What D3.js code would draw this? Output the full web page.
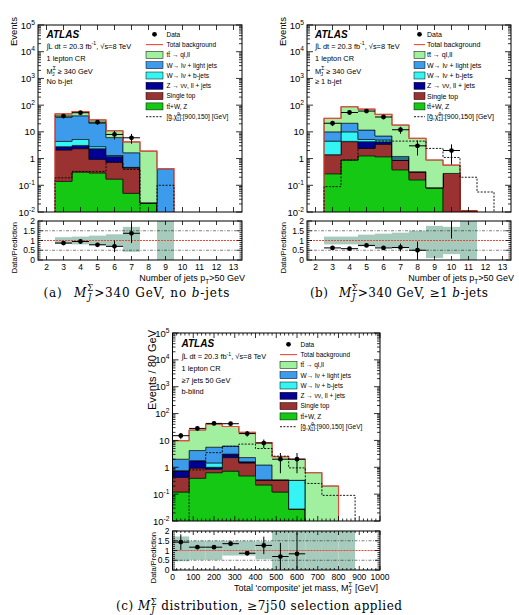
<!DOCTYPE html>
<html>
<head>
<meta charset="utf-8">
<script src="https://cdn.jsdelivr.net/npm/d3@7"></script>
<style>
  body { margin: 0; background: #fff; }
  svg { display: block; }
</style>
</head>
<body>
<svg id="fig" width="519" height="615"></svg>
<script>
// --- (a) M_J > 340 GeV, no b-jets : jet multiplicity bins ---
const aBins = [3, 4, 5, 6, 7, 8, 9];
const aTtV = [0.14, 0.31, 0.29, 0.17, 0.05, 0.022, 0];
const aSingleTop = [1.96, 2.04, 0.64, 0.56, 0.40, 0, 0];
const aZjets = [0.7, 0.75, 1.42, 0.47, 0.01, 0, 0];
const aWb = [1.6, 2.1, 0.45, 0.1, 0.01, 0, 0];
const aWlight = [30.6, 34.8, 18.2, 4.8, 1.18, 0, 0.42];
const aTtbar = [12, 17, 7, 4.9, 2.55, 1.88, 0];
const aSignal = [0.19, 0.33, 0.33, 0.73, 0.39, 0, 0.1];
const aDataBins = [3, 4, 5, 6, 7];
const aData = [39, 52, 23, 8, 6];
const aDataErr = [6.2, 7.2, 4.8, 2.8, 2.4];
const aRatio = [0.87, 0.95, 0.78, 0.70, 1.37];
const aRatioErr = [0.08, 0.08, 0.10, 0.30, 0.50];
const aBandLo = [0.82, 0.80, 0.76, 0.70, 0.42, null, 0];
const aBandHi = [1.17, 1.20, 1.25, 1.32, 1.70, null, 2];

// --- (b) M_J > 340 GeV, >=1 b-jets ---
const bBins = [3, 4, 5, 6, 7, 8, 9, 10, 11, 12, 13];
const bTtV = [0.27, 0.88, 1.27, 1.17, 0.38, 0.16, 0.081, 0.008, 0, 0, 0];
const bSingleTop = [1.13, 3.42, 1.13, 2.23, 0.47, 0.16, 0, 0.27, 0.011, 0, 0];
const bZjets = [0, 0.1, 1.9, 0.8, 0.05, 0, 0, 0, 0, 0, 0];
const bWb = [3.1, 5.6, 0.9, 0.8, 0.15, 0, 0, 0, 0, 0, 0];
const bWlight = [5.5, 11, 6.5, 2.0, 0.15, 0, 0, 0, 0, 0, 0];
const bTtbar = [22, 66, 59, 38, 16.8, 5.4, 0.8, 0.29, 0, 0, 0];
const bSignal = [0.089, 0.88, 2.4, 4.5, 4.5, 4.5, 2.4, 1.1, 0.2, 0.056, 0];
const bDataBins = [3, 4, 5, 6, 7, 8, 10];
const bData = [21, 53, 60, 36, 12, 3, 2];
const bDataErr = [4.6, 7.3, 7.7, 6.0, 3.5, 1.7, 1.4];
const bRatio = [0.62, 0.58, 0.75, 0.62, 0.64, 0.50, 3.3];
const bRatioErr = [0.10, 0.06, 0.08, 0.08, 0.20, 0.45, 2.2];
const bBandLo = [0.80, 0.80, 0.70, 0.65, 0.60, 0.50, 0.10, 0.30, 0, null, null];
const bBandHi = [1.20, 1.20, 1.30, 1.35, 1.40, 1.50, 1.75, 1.70, 2, null, null];

// --- (c) composite jet mass, >=7j50, 80 GeV bins ---
const cBins = [40, 120, 200, 280, 360, 440, 520, 600, 680, 760, 840];
const cTtV = [0.12, 0.39, 0.63, 0.72, 0.48, 0.22, 0.12, 0.028, 0, 0, 0];
const cSingleTop = [0.30, 0.54, 0.22, 1.58, 0.97, 0.12, 0.22, 0, 0, 0, 0];
const cZjets = [0.30, 0.83, 0.15, 0.70, 0.15, 0, 0, 0, 0, 0, 0];
const cWb = [0.03, 0, 0.45, 0.10, 0, 0, 0, 0.30, 0, 0, 0];
const cWlight = [1.25, 2.44, 4.15, 3.10, 0.70, 0.88, 0, 0, 0, 0, 0];
const cTtbar = [7.8, 20.3, 34.4, 26.8, 17.7, 7.08, 2.16, 1.67, 0.63, 0.20, 0];
const cSignal = [0, 0.8, 3.5, 6.0, 7.3, 5.0, 2.6, 0.95, 0.25, 0.09, 0.09];
const cDataBins = [40, 120, 200, 280, 360, 440, 520, 600];
const cData = [15, 28, 43, 42, 18, 8, 2, 2];
const cDataErr = [3.9, 5.3, 6.6, 6.5, 4.2, 2.8, 1.4, 1.4];
const cRatio = [1.43, 1.17, 1.17, 1.35, 0.86, 1.26, 0.69, 0.83];
const cRatioErr = [0.40, 0.10, 0.10, 0.10, 0.10, 0.45, 0.70, 1.10];
const cBandLo = [0.45, 0.52, 0.52, 0.74, 0.74, 0.55, 0, 0, 0, 0, 0];
const cBandHi = [1.72, 1.50, 1.50, 1.50, 1.50, 1.47, 2, 2, 2, 2, 2];

// axis ticks
const jetTicks = [2, 3, 4, 5, 6, 7, 8, 9, 10, 11, 12, 13];
const massTicks = [0, 100, 200, 300, 400, 500, 600, 700, 800, 900, 1000];
const massMinor = d3.range(0, 1001, 20);
const ratioTicks = [0, 0.5, 1, 1.5, 2];
const ratioLabels = ["0", "0.5", "1", "1.5", "2"];
const ratioMinor = d3.range(0, 2.01, 0.1);

// stack order bottom -> top
const procKeys = ["ttV", "singleTop", "Zjets", "Wb", "Wlight", "ttbar"];
const procColors = ["#14c814", "#9b3232", "#000094", "#34f4f4", "#3c9ceb", "#a0f0a0"];
const totalColor = "#f0463a";
const bandColor = "#a6cbbd";

const SANS = "'Liberation Sans', Arial, Helvetica, sans-serif";
const SERIF = "'DejaVu Serif', 'Liberation Serif', serif";
const svg = d3.select("#fig");
const defs = svg.append("defs");

// text with sub/superscripts
function rich(t, parts, fs) {
  let shift = 0;
  parts.forEach(p => {
    const ts = t.append("tspan").text(p.t);
    const target = p.sup ? -fs * 0.42 : p.sub ? fs * 0.28 : 0;
    if (target !== shift) { ts.attr("dy", target - shift); shift = target; }
    if (p.sup || p.sub) ts.attr("font-size", fs * 0.7);
    if (p.it) ts.attr("font-style", "italic");
    if (p.dx) ts.attr("dx", p.dx);
  });
  return t;
}

function drawPanel(P) {
  const g = svg.append("g");
  const x = d3.scaleLinear().domain(P.xDomain).range([P.left, P.right]);
  const y = d3.scaleLog().domain([0.01, 1e5]).range([P.mainBottom, P.mainTop]);
  const yr = d3.scaleLinear().domain([0, 2]).range([P.ratioBottom, P.ratioTop]);
  const yv = v => y(Math.max(v, 0.003));
  const half = P.binW / 2;
  const nb = P.bins.length;

  defs.append("clipPath").attr("id", "cm" + P.id).append("rect")
    .attr("x", P.left).attr("y", P.mainTop).attr("width", P.right - P.left).attr("height", P.mainBottom - P.mainTop);
  defs.append("clipPath").attr("id", "cr" + P.id).append("rect")
    .attr("x", P.left).attr("y", P.ratioTop).attr("width", P.right - P.left).attr("height", P.ratioBottom - P.ratioTop);
  const main = g.append("g").attr("clip-path", `url(#cm${P.id})`);
  const rat = g.append("g").attr("clip-path", `url(#cr${P.id})`);

  // stacked backgrounds
  const rows = P.bins.map((b, i) => {
    const r = {};
    procKeys.forEach((k, j) => { r[k] = P.procs[j][i]; });
    return r;
  });
  const series = d3.stack().keys(procKeys)(rows);
  const area = d3.area().curve(d3.curveStepAfter)
    .x(d => x(d.e)).y0(d => yv(d.lo)).y1(d => yv(d.hi));
  series.forEach((s, k) => {
    const pts = s.map((d, i) => ({ e: P.bins[i] - half, lo: d[0], hi: d[1] }));
    pts.push({ ...pts[nb - 1], e: P.bins[nb - 1] + half });
    main.append("path").attr("d", area(pts))
      .attr("fill", procColors[k]).attr("stroke", "#000").attr("stroke-width", 0.6);
  });

  const stepLine = d3.line().curve(d3.curveStepAfter).x(d => x(d.e)).y(d => yv(d.v));
  const outline = vals => {
    const pts = [{ e: P.bins[0] - half, v: 0 }];
    vals.forEach((v, i) => pts.push({ e: P.bins[i] - half, v }));
    pts.push({ e: P.bins[nb - 1] + half, v: vals[nb - 1] });
    pts.push({ e: P.bins[nb - 1] + half, v: 0 });
    return pts;
  };
  const total = series[series.length - 1].map(d => d[1]);
  main.append("path").attr("d", stepLine(outline(total)))
    .attr("fill", "none").attr("stroke", totalColor).attr("stroke-width", 1.1);
  main.append("path").attr("d", stepLine(outline(P.signal)))
    .attr("fill", "none").attr("stroke", "#000").attr("stroke-width", 0.9).attr("stroke-dasharray", "2,1.4");

  // data
  const dat = P.dataBins.map((b, i) => ({ b, v: P.data[i], e: P.dataErr[i] }));
  const dg = main.selectAll("g.pt").data(dat).join("g").attr("class", "pt");
  dg.append("line").attr("x1", d => x(d.b - half)).attr("x2", d => x(d.b + half))
    .attr("y1", d => yv(d.v)).attr("y2", d => yv(d.v)).attr("stroke", "#000").attr("stroke-width", 1);
  dg.append("line").attr("x1", d => x(d.b)).attr("x2", d => x(d.b))
    .attr("y1", d => yv(d.v - d.e)).attr("y2", d => yv(d.v + d.e)).attr("stroke", "#000").attr("stroke-width", 1);
  dg.append("circle").attr("cx", d => x(d.b)).attr("cy", d => yv(d.v)).attr("r", 2.4).attr("fill", "#000");

  // ratio band and reference lines
  P.bins.forEach((b, i) => {
    if (P.bandLo[i] === null) return;
    rat.append("rect").attr("x", x(b - half)).attr("width", x(b + half) - x(b - half))
      .attr("y", yr(P.bandHi[i])).attr("height", yr(P.bandLo[i]) - yr(P.bandHi[i])).attr("fill", bandColor);
  });
  [0.5, 1.5].forEach(v => {
    rat.append("line").attr("x1", P.left).attr("x2", P.right).attr("y1", yr(v)).attr("y2", yr(v))
      .attr("stroke", "#000").attr("stroke-width", 0.5).attr("stroke-dasharray", "3,1.5,1,1.5");
  });
  rat.append("line").attr("x1", P.left).attr("x2", P.right).attr("y1", yr(1)).attr("y2", yr(1))
    .attr("stroke", totalColor).attr("stroke-width", 1).attr("stroke-dasharray", "2,1");
  const rdat = P.dataBins.map((b, i) => ({ b, v: P.ratio[i], e: P.ratioErr[i] }));
  const rg = rat.selectAll("g.rp").data(rdat).join("g").attr("class", "rp");
  rg.append("line").attr("x1", d => x(d.b - half)).attr("x2", d => x(d.b + half))
    .attr("y1", d => yr(d.v)).attr("y2", d => yr(d.v)).attr("stroke", "#000").attr("stroke-width", 1);
  rg.append("line").attr("x1", d => x(d.b)).attr("x2", d => x(d.b))
    .attr("y1", d => yr(d.v - d.e)).attr("y2", d => yr(d.v + d.e)).attr("stroke", "#000").attr("stroke-width", 1);
  rg.append("circle").attr("cx", d => x(d.b)).attr("cy", d => yr(d.v)).attr("r", 2.4).attr("fill", "#000");

  // frames and ticks
  const ax = g.append("g").attr("stroke", "#000").attr("stroke-width", 0.8);
  const tick = (x1, y1, x2, y2) => ax.append("line").attr("x1", x1).attr("y1", y1).attr("x2", x2).attr("y2", y2);
  y.ticks().forEach(t => {
    const major = Math.abs(Math.log10(t) - Math.round(Math.log10(t))) < 1e-6;
    const len = major ? 6 : 3;
    tick(P.left, y(t), P.left + len, y(t));
    tick(P.right, y(t), P.right - len, y(t));
  });
  ratioMinor.forEach(t => {
    const major = ratioTicks.some(m => Math.abs(m - t) < 1e-6);
    const len = major ? 5 : 2.5;
    tick(P.left, yr(t), P.left + len, yr(t));
    tick(P.right, yr(t), P.right - len, yr(t));
  });
  P.xMinor.forEach(t => {
    const major = P.xTicks.includes(t);
    const len = major ? 5 : 2.5;
    tick(x(t), P.mainBottom, x(t), P.mainBottom - len);
    tick(x(t), P.mainTop, x(t), P.mainTop + len);
    const lr = major ? 4 : 2;
    tick(x(t), P.ratioBottom, x(t), P.ratioBottom - lr);
    tick(x(t), P.ratioTop, x(t), P.ratioTop + lr);
  });
  g.append("rect").attr("x", P.left).attr("y", P.mainTop).attr("width", P.right - P.left)
    .attr("height", P.mainBottom - P.mainTop).attr("fill", "none").attr("stroke", "#000").attr("stroke-width", 1);
  g.append("rect").attr("x", P.left).attr("y", P.ratioTop).attr("width", P.right - P.left)
    .attr("height", P.ratioBottom - P.ratioTop).attr("fill", "none").attr("stroke", "#000").attr("stroke-width", 1);

  // tick labels
  const tl = g.append("g").attr("font-family", SANS).attr("fill", "#000");
  y.ticks().filter(t => Math.abs(Math.log10(t) - Math.round(Math.log10(t))) < 1e-6).forEach(t => {
    const e = Math.round(Math.log10(t));
    const txt = tl.append("text").attr("x", P.left - 3).attr("y", y(t) + 3.5)
      .attr("text-anchor", "end").attr("font-size", 9.5);
    if (e === 0) txt.text("1");
    else if (e === 1) txt.text("10");
    else rich(txt, [{ t: "10" }, { t: String(e), sup: true }], 9.5);
  });
  ratioTicks.forEach((t, i) => {
    tl.append("text").attr("x", P.left - 3).attr("y", yr(t) + 3).attr("text-anchor", "end")
      .attr("font-size", 8.5).text(ratioLabels[i]);
  });
  P.xTicks.forEach(t => {
    tl.append("text").attr("x", x(t)).attr("y", P.ratioBottom + 10).attr("text-anchor", "middle")
      .attr("font-size", 8.5).text(t);
  });

  // axis titles
  tl.append("text").attr("transform", `translate(${P.yTitleX},${P.yTitleY}) rotate(-90)`)
    .attr("text-anchor", "end").attr("font-size", P.yTitleSize).text(P.yTitle);
  tl.append("text").attr("transform", `translate(${P.yTitleX},${P.ratioTop + 1}) rotate(-90)`)
    .attr("text-anchor", "end").attr("font-size", 7.5).text("Data/Prediction");
  rich(tl.append("text").attr("x", P.right + P.xTitleDx).attr("y", P.ratioBottom + 21)
    .attr("text-anchor", "end").attr("font-size", 9), P.xTitle, 9);

  // labels inside the plot
  tl.append("text").attr("x", P.textX).attr("y", P.textY0).attr("font-size", 10)
    .attr("font-weight", "bold").attr("font-style", "italic").text("ATLAS");
  P.textLines.forEach((parts, i) => {
    rich(tl.append("text").attr("x", P.textX).attr("y", P.textY[i]).attr("font-size", 7.4), parts, 7.4);
  });

  // legend
  const L = P.legend;
  const lg = g.append("g").attr("font-family", SANS);
  legendLabels.forEach((parts, i) => {
    const cy = L.y0 + i * L.dy;
    const cx = L.boxX + L.boxW / 2;
    if (i === 0) {
      lg.append("circle").attr("cx", cx).attr("cy", cy).attr("r", 2.4).attr("fill", "#000");
    } else if (i === 1) {
      lg.append("line").attr("x1", L.boxX).attr("x2", L.boxX + L.boxW).attr("y1", cy).attr("y2", cy)
        .attr("stroke", totalColor).attr("stroke-width", 1.1);
    } else if (i === legendLabels.length - 1) {
      lg.append("line").attr("x1", L.boxX).attr("x2", L.boxX + L.boxW).attr("y1", cy).attr("y2", cy)
        .attr("stroke", "#000").attr("stroke-width", 0.9).attr("stroke-dasharray", "2,1.4");
    } else {
      lg.append("rect").attr("x", L.boxX).attr("y", cy - 3.5).attr("width", L.boxW).attr("height", 7)
        .attr("fill", procColors[legendProc[i - 2]]).attr("stroke", "#000").attr("stroke-width", 0.5);
    }
    rich(lg.append("text").attr("x", L.textX).attr("y", cy + L.fs * 0.36).attr("font-size", L.fs), parts, L.fs);
  });

  // caption below
  const cap = svg.append("text").attr("x", P.capX).attr("y", P.capY).attr("text-anchor", "middle")
    .attr("font-family", SERIF).attr("font-size", 12)
    .attr("textLength", P.capW).attr("lengthAdjust", "spacing");
  rich(cap, P.caption, 12);
}

const legendLabels = [
  [{ t: "Data" }],
  [{ t: "Total background" }],
  [{ t: "tt\u0304 \u2192 ql,ll" }],
  [{ t: "W\u2192 l\u03bd + light jets" }],
  [{ t: "W\u2192 l\u03bd + b-jets" }],
  [{ t: "Z \u2192 \u03bd\u03bd, ll + jets" }],
  [{ t: "Single top" }],
  [{ t: "tt\u0304+W, Z" }],
  [{ t: "[g\u0303,\u03c7\u0303" }, { t: "0", sup: true }, { t: "1", sub: true, dx: -3 }, { t: "]:[900,150] [GeV]" }]
];
// legend row -> stack index (tt, Wlight, Wb, Z, single top, ttV)
const legendProc = [5, 4, 3, 2, 1, 0];

const lumiLine = [{ t: "\u222bL dt = 20.3 fb" }, { t: "-1", sup: true }, { t: ", \u221as=8 TeV" }];
const mjLine = [{ t: "M" }, { t: "\u03a3", sup: true }, { t: "J", sub: true, dx: -4 }, { t: " \u2265 340 GeV", dx: 1 }];
const jetTitle = [{ t: "Number of jets p" }, { t: "T", sub: true }, { t: ">50 GeV" }];
const capMath = [{ t: "M", it: true }, { t: "\u03a3", sup: true }, { t: "J", sub: true, it: true, dx: -6 }];

const commonAB = {
  xDomain: [1.5, 13.5], binW: 1, mainTop: 25, mainBottom: 212, ratioTop: 221, ratioBottom: 260,
  xTicks: jetTicks, xMinor: jetTicks, yTitle: "Events", yTitleSize: 9.5, yTitleY: 17,
  xTitle: jetTitle, xTitleDx: 3, textY0: 37.7, textY: [48.5, 60.7, 73.5, 84.3], capY: 296.5
};

drawPanel({
  ...commonAB, id: "a", left: 38, right: 242,
  bins: aBins, procs: [aTtV, aSingleTop, aZjets, aWb, aWlight, aTtbar], signal: aSignal,
  dataBins: aDataBins, data: aData, dataErr: aDataErr, ratio: aRatio, ratioErr: aRatioErr,
  bandLo: aBandLo, bandHi: aBandHi, yTitleX: 16.5, textX: 46.5,
  textLines: [lumiLine, [{ t: "1 lepton CR" }], mjLine, [{ t: "No b-jet" }]],
  legend: { boxX: 146, boxW: 17, textX: 166.5, y0: 34.3, dy: 10.3, fs: 6.5 },
  capX: 136.5, capW: 186,
  caption: [{ t: "(a)\u2002 " }, ...capMath, { t: ">340 GeV, no ", dx: 2 }, { t: "b", it: true }, { t: "-jets" }]
});

drawPanel({
  ...commonAB, id: "b", left: 307, right: 511,
  bins: bBins, procs: [bTtV, bSingleTop, bZjets, bWb, bWlight, bTtbar], signal: bSignal,
  dataBins: bDataBins, data: bData, dataErr: bDataErr, ratio: bRatio, ratioErr: bRatioErr,
  bandLo: bBandLo, bandHi: bBandHi, yTitleX: 285.5, textX: 315,
  textLines: [lumiLine, [{ t: "1 lepton CR" }], mjLine, [{ t: "\u2265 1 b-jet" }]],
  legend: { boxX: 414, boxW: 11, textX: 427, y0: 34.3, dy: 10.3, fs: 7 },
  capX: 399, capW: 178,
  caption: [{ t: "(b)\u2002 " }, ...capMath, { t: ">340 GeV, \u22651 ", dx: 2 }, { t: "b", it: true }, { t: "-jets" }]
});

drawPanel({
  id: "c", xDomain: [0, 1000], binW: 80, left: 172.5, right: 380,
  mainTop: 333, mainBottom: 521, ratioTop: 531, ratioBottom: 570,
  xTicks: massTicks, xMinor: massMinor, yTitle: "Events / 80 GeV", yTitleSize: 11, yTitleY: 330,
  xTitle: [{ t: "Total 'composite' jet mass, M" }, { t: "\u03a3", sup: true }, { t: "J", sub: true, dx: -4 }, { t: " [GeV]", dx: 1 }],
  xTitleDx: -2,
  bins: cBins, procs: [cTtV, cSingleTop, cZjets, cWb, cWlight, cTtbar], signal: cSignal,
  dataBins: cDataBins, data: cData, dataErr: cDataErr, ratio: cRatio, ratioErr: cRatioErr,
  bandLo: cBandLo, bandHi: cBandHi, yTitleX: 156, textX: 181.5,
  textY0: 346.7, textY: [359.3, 370.7, 382.7, 394.3],
  textLines: [lumiLine, [{ t: "1 lepton CR" }], [{ t: "\u22657 jets 50 GeV" }], [{ t: "b-blind" }]],
  legend: { boxX: 280, boxW: 17, textX: 300.5, y0: 344.3, dy: 10.3, fs: 6.5 },
  capX: 259, capY: 610, capW: 286,
  caption: [{ t: "(c) " }, ...capMath, { t: " distribution, \u22657j50 selection applied", dx: 2 }]
});
</script>
</body>
</html>
